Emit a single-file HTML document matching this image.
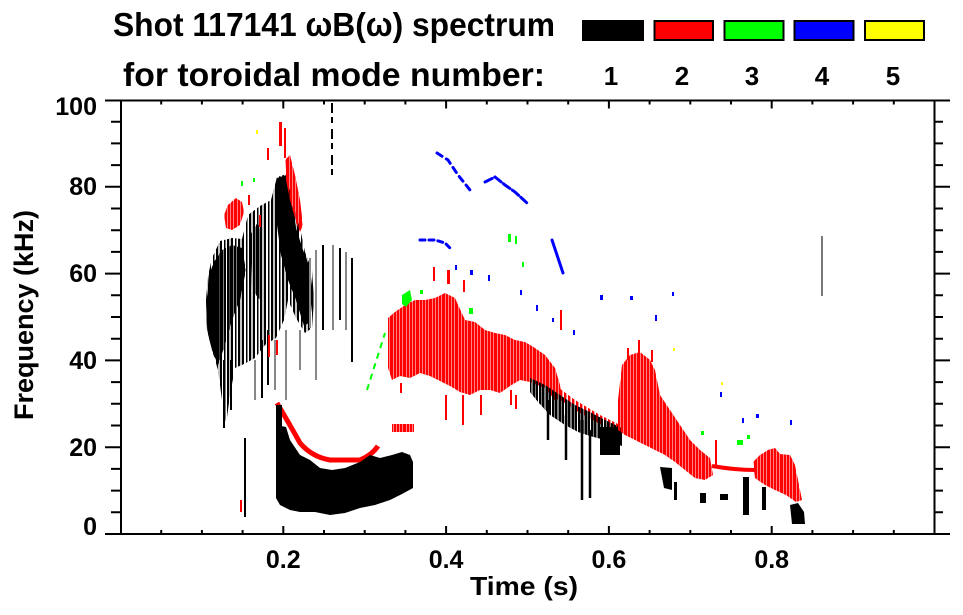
<!DOCTYPE html>
<html>
<head>
<meta charset="utf-8">
<style>
html,body{margin:0;padding:0;background:#fff;}
svg{display:block;}
text{font-family:"Liberation Sans",Arial,sans-serif;font-weight:bold;fill:#000;}
</style>
</head>
<body>
<svg width="963" height="615" viewBox="0 0 963 615" xmlns="http://www.w3.org/2000/svg">
<defs>
<pattern id="hk" width="13" height="37" patternUnits="userSpaceOnUse">
<rect x="0" width="2.5" height="37" fill="#000"/><rect x="3" width="2" height="37" fill="#000"/><rect x="6" width="2.5" height="37" fill="#000"/><rect x="9" width="2" height="37" fill="#000"/><rect x="11.5" width="1" height="37" fill="#000"/>
</pattern>
<pattern id="hk2" width="11" height="41" patternUnits="userSpaceOnUse">
<rect x="0" width="2" height="41" fill="#000"/><rect x="4" width="1.5" height="41" fill="#000"/><rect x="7" width="2" height="41" fill="#000"/><rect x="9.5" width="1" height="41" fill="#888"/>
</pattern>
<pattern id="hr" width="13" height="37" patternUnits="userSpaceOnUse">
<rect x="0" width="3" height="37" fill="#f00"/><rect x="3.5" width="2.5" height="37" fill="#f00"/><rect x="6.5" width="3" height="37" fill="#f00"/><rect x="10" width="2.5" height="37" fill="#f00"/>
</pattern>
<pattern id="hr2" width="4" height="10" patternUnits="userSpaceOnUse"><rect width="2.4" height="10" fill="#f00"/></pattern>
</defs>
<rect width="963" height="615" fill="#fff"/>

<!-- Title -->
<text x="113" y="36" font-size="33" textLength="442" lengthAdjust="spacingAndGlyphs">Shot 117141 ωB(ω) spectrum</text>
<text x="123" y="86" font-size="33" textLength="422" lengthAdjust="spacingAndGlyphs">for toroidal mode number:</text>

<!-- Legend -->
<rect x="582" y="20" width="62" height="21" fill="#000"/>
<rect x="654.5" y="21" width="58.5" height="19" fill="#f00" stroke="#000" stroke-width="2"/>
<rect x="724.5" y="21" width="59" height="19" fill="#0f0" stroke="#000" stroke-width="2"/>
<rect x="794.5" y="21" width="59" height="19" fill="#00f" stroke="#000" stroke-width="2"/>
<rect x="865" y="21" width="59" height="19" fill="#ff0" stroke="#000" stroke-width="2"/>
<g font-size="26" text-anchor="middle">
<text x="611" y="85">1</text>
<text x="682" y="85">2</text>
<text x="752" y="85">3</text>
<text x="822" y="85">4</text>
<text x="893" y="85">5</text>
</g>

<!-- ===== DATA ===== -->
<!-- Black left blob -->
<path d="M206,300 L208,276 L212,258 L220,241 L232,238 L242,239 L248,215 L260,206 L271,200 L277,177 L287,174 L292,198 L300,228 L305,252 L312,270 L314,300 L312,328 L305,333 L296,318 L288,300 L284,320 L276,338 L265,345 L255,358 L244,364 L235,368 L230,395 L226,425 L222,400 L218,370 L212,350 L207,330 Z" fill="url(#hk2)"/>
<path d="M206,305 L209,275 L214,262 L222,250 L232,245 L242,248 L246,270 L240,300 L232,320 L225,345 L218,365 L212,350 L207,330 Z" fill="url(#hk)"/>
<path d="M206,300 L210,290 L215,300 L214,335 L208,332 Z" fill="#000"/>
<path d="M277,178 L287,175 L291,200 L296,228 L303,250 L310,268 L313,295 L310,322 L304,326 L296,300 L288,280 L281,255 L277,225 Z" fill="#000"/>
<path d="M250,235 L258,222 L262,240 L260,300 L252,290 Z" fill="url(#hk)"/>
<g stroke="#000" stroke-width="2">
<line x1="224" y1="360" x2="224" y2="428"/>
<line x1="231" y1="360" x2="231" y2="410"/>
<line x1="262" y1="340" x2="262" y2="398"/>
<line x1="268" y1="330" x2="268" y2="385"/>
<line x1="245" y1="438" x2="245" y2="517"/>
<line x1="352" y1="258" x2="352" y2="362"/>
<line x1="323" y1="245" x2="323" y2="330"/>
<line x1="340" y1="248" x2="340" y2="320"/>
</g>
<g stroke="#888" stroke-width="2">
<line x1="310" y1="258" x2="310" y2="328"/>
<line x1="316" y1="250" x2="316" y2="380"/>
<line x1="333" y1="245" x2="333" y2="330"/>
<line x1="346" y1="252" x2="346" y2="330"/>
<line x1="255" y1="360" x2="255" y2="400"/>
<line x1="275" y1="340" x2="275" y2="390"/>
<line x1="286" y1="330" x2="286" y2="400"/>
<line x1="300" y1="330" x2="300" y2="370"/>
</g>
<line x1="332" y1="103" x2="332" y2="178" stroke="#000" stroke-width="2" stroke-dasharray="10,4,6,6"/>

<!-- Red near left blob -->
<path d="M224,215 L228,205 L236,198 L242,202 L244,212 L240,225 L232,230 L226,228 Z" fill="url(#hr)"/>
<path d="M285,160 L290,155 L295,175 L300,200 L303,225 L300,232 L296,222 L290,200 L286,180 Z" fill="url(#hr)"/>
<rect x="279" y="122" width="3" height="24" fill="#f00"/>
<rect x="284" y="128" width="2" height="30" fill="#f00"/>
<rect x="267" y="148" width="2" height="12" fill="#f00"/>
<rect x="248" y="195" width="2" height="10" fill="#f00"/>
<rect x="259" y="215" width="2" height="12" fill="#f00"/>
<rect x="268" y="335" width="2" height="22" fill="#f00"/>
<rect x="276" y="340" width="2" height="15" fill="#f00"/>

<!-- Red lower arc -->
<path d="M277,403 Q290,425 300,443 Q312,457 330,460 L360,460 Q372,455 378,446" fill="none" stroke="#f00" stroke-width="5"/>
<rect x="392" y="424" width="22" height="8" fill="url(#hr)"/>
<rect x="240" y="500" width="2" height="12" fill="#f00"/>

<!-- Black bottom blob -->
<path d="M276,425 L286,427 L290,440 L300,455 L310,460 L320,468 L332,470 L345,468 L360,462 L370,455 L380,458 L392,455 L402,452 L410,455 L413,462 L413,488 L402,494 L390,500 L375,505 L360,508 L345,513 L330,515 L315,512 L300,512 L290,510 L280,505 L276,498 Z" fill="#000"/>
<rect x="276" y="405" width="6" height="25" fill="#000"/>

<!-- Red middle band -->
<path d="M388,318 L395,312 L405,305 L415,300 L425,300 L435,298 L445,293 L455,298 L465,320 L475,322 L485,330 L495,333 L505,335 L515,340 L525,342 L535,348 L545,355 L555,368 L560,385 L562,398 L555,400 L545,388 L530,382 L520,380 L510,386 L500,393 L490,390 L480,390 L470,395 L460,392 L450,386 L440,381 L430,376 L420,373 L410,378 L400,376 L392,380 L388,368 Z" fill="url(#hr)"/>
<g fill="#f00">
<rect x="433" y="267" width="2" height="14"/>
<rect x="447" y="270" width="3" height="14"/>
<rect x="463" y="280" width="2" height="12"/>
<rect x="445" y="395" width="2" height="25"/>
<rect x="462" y="395" width="2" height="30"/>
<rect x="480" y="395" width="2" height="20"/>
<rect x="510" y="390" width="2" height="15"/>
<rect x="560" y="310" width="2" height="20"/>
<rect x="515" y="395" width="2" height="14"/>
<rect x="400" y="383" width="2" height="10"/>
</g>
<path d="M555,385 L575,400 L600,415 L620,425 L620,432 L600,424 L575,410 L555,396 Z" fill="url(#hr2)"/>

<!-- Black diagonal band -->
<path d="M530,378 L545,385 L560,395 L575,405 L590,412 L605,420 L622,428 L622,446 L605,440 L590,436 L578,432 L565,425 L550,415 L538,402 L530,392 Z" fill="url(#hk)"/>
<g stroke="#000" stroke-width="2.5">
<line x1="582" y1="420" x2="582" y2="500"/>
<line x1="590" y1="430" x2="590" y2="498"/>
<line x1="566" y1="415" x2="566" y2="460"/>
<line x1="548" y1="400" x2="548" y2="440"/>
</g>
<rect x="600" y="427" width="20" height="28" fill="#000"/>

<!-- Red right cluster E -->
<path d="M618,400 L622,365 L630,355 L640,352 L650,360 L655,370 L660,395 L670,410 L680,425 L690,440 L700,450 L710,458 L713,475 L705,480 L695,478 L685,470 L675,462 L665,455 L655,450 L645,445 L635,440 L625,435 L618,430 Z" fill="url(#hr)"/>
<g fill="#f00">
<rect x="638" y="340" width="2" height="15"/>
<rect x="651" y="350" width="2" height="12"/>
<rect x="627" y="348" width="2" height="12"/>
<rect x="715" y="440" width="2" height="25"/>
</g>
<path d="M712,466 Q735,470 755,470" fill="none" stroke="#f00" stroke-width="4"/>
<path d="M753,462 L760,455 L768,450 L775,448 L780,454 L790,455 L795,465 L798,480 L802,500 L796,502 L786,495 L775,490 L765,485 L755,478 Z" fill="url(#hr)"/>

<!-- Black right bits -->
<path d="M660,467 L672,468 L672,490 L664,488 Z" fill="#000"/>
<rect x="700" y="493" width="6" height="10" fill="#000"/>
<rect x="720" y="494" width="8" height="6" fill="#000"/>
<rect x="743" y="477" width="6" height="38" fill="#000"/>
<rect x="762" y="487" width="4" height="23" fill="#000"/>
<path d="M790,505 L798,503 L804,512 L805,524 L792,524 Z" fill="#000"/>
<rect x="674" y="482" width="3" height="18" fill="#000"/>

<!-- Gray line right -->
<rect x="821" y="236" width="2" height="60" fill="#777"/>

<!-- Blue -->
<g stroke="#00f" stroke-width="3" fill="none" stroke-linecap="round">
<path d="M437,153 L448,160 L458,175 L470,190" stroke-dasharray="6,5"/>
<path d="M485,182 L495,177 L505,185 L515,192 L527,203" stroke-dasharray="8,3"/>
<path d="M420,240 L435,240 L445,243 L452,250" stroke-dasharray="5,4"/>
<path d="M552,240 L563,273"/>
</g>
<g fill="#00f">
<rect x="455" y="265" width="2" height="5"/>
<rect x="470" y="270" width="3" height="5"/>
<rect x="488" y="275" width="2" height="6"/>
<rect x="520" y="290" width="2" height="5"/>
<rect x="536" y="305" width="2" height="6"/>
<rect x="552" y="318" width="2" height="4"/>
<rect x="573" y="330" width="2" height="5"/>
<rect x="600" y="295" width="3" height="5"/>
<rect x="630" y="296" width="3" height="4"/>
<rect x="655" y="315" width="2" height="6"/>
<rect x="672" y="292" width="2" height="4"/>
<rect x="720" y="392" width="2" height="5"/>
<rect x="742" y="418" width="2" height="5"/>
<rect x="756" y="414" width="3" height="4"/>
<rect x="790" y="420" width="2" height="5"/>
</g>

<!-- Green -->
<g fill="#0f0">
<path d="M402,295 L410,290 L412,300 L406,307 L402,304 Z"/>
<rect x="469" y="308" width="4" height="6"/>
<rect x="508" y="234" width="3" height="8"/>
<rect x="515" y="236" width="2" height="8"/>
<rect x="420" y="290" width="3" height="4"/>
<rect x="241" y="181" width="2" height="5"/>
<rect x="253" y="178" width="2" height="4"/>
<rect x="701" y="431" width="3" height="4"/>
<rect x="737" y="440" width="6" height="5"/>
<rect x="747" y="435" width="3" height="4"/>
<rect x="522" y="262" width="2" height="5"/>
</g>
<path d="M367,390 L385,333" stroke="#0f0" stroke-width="2" stroke-dasharray="6,5" fill="none"/>

<!-- Yellow -->
<g fill="#ff0">
<rect x="256" y="130" width="2" height="4"/>
<rect x="673" y="348" width="2" height="3"/>
<rect x="721" y="382" width="2" height="3"/>
</g>

<!-- ===== AXES ===== -->
<g stroke="#000" stroke-width="2" fill="none">
<rect x="121" y="100.5" width="813.5" height="433.5"/>
<path d="M105,534H121 M105,447.2H121 M105,360.4H121 M105,273.6H121 M105,186.8H121 M105,100.5H121"/>
<path d="M111,512.3H121 M111,490.6H121 M111,468.9H121 M111,425.5H121 M111,403.8H121 M111,382.1H121 M111,338.7H121 M111,317H121 M111,295.3H121 M111,251.9H121 M111,230.2H121 M111,208.5H121 M111,165.1H121 M111,143.4H121 M111,121.7H121"/>
<path d="M934.5,534H950 M934.5,447.2H950 M934.5,360.4H950 M934.5,273.6H950 M934.5,186.8H950 M934.5,100.5H950"/>
<path d="M934.5,512.3H943 M934.5,490.6H943 M934.5,468.9H943 M934.5,425.5H943 M934.5,403.8H943 M934.5,382.1H943 M934.5,338.7H943 M934.5,317H943 M934.5,295.3H943 M934.5,251.9H943 M934.5,230.2H943 M934.5,208.5H943 M934.5,165.1H943 M934.5,143.4H943 M934.5,121.7H943"/>
<path d="M283.3,534V526 M446.1,534V526 M608.9,534V526 M771.7,534V526"/>
<path d="M161.2,534V530 M201.9,534V530 M242.6,534V530 M324,534V530 M364.7,534V530 M405.4,534V530 M486.8,534V530 M527.5,534V530 M568.2,534V530 M649.6,534V530 M690.3,534V530 M731,534V530 M812.4,534V530 M853.1,534V530 M893.8,534V530"/>
<path d="M283.3,100.5V108.5 M446.1,100.5V108.5 M608.9,100.5V108.5 M771.7,100.5V108.5"/>
<path d="M161.2,100.5V104.5 M201.9,100.5V104.5 M242.6,100.5V104.5 M324,100.5V104.5 M364.7,100.5V104.5 M405.4,100.5V104.5 M486.8,100.5V104.5 M527.5,100.5V104.5 M568.2,100.5V104.5 M649.6,100.5V104.5 M690.3,100.5V104.5 M731,100.5V104.5 M812.4,100.5V104.5 M853.1,100.5V104.5 M893.8,100.5V104.5"/>
</g>

<!-- Y labels -->
<g font-size="25" text-anchor="end">
<text x="97" y="115">100</text>
<text x="97" y="195">80</text>
<text x="97" y="282">60</text>
<text x="97" y="369">40</text>
<text x="97" y="456">20</text>
<text x="97" y="535">0</text>
</g>
<!-- X labels -->
<g font-size="25" text-anchor="middle">
<text x="283.3" y="568">0.2</text>
<text x="446.1" y="568">0.4</text>
<text x="608.9" y="568">0.6</text>
<text x="771.7" y="568">0.8</text>
</g>
<text x="470" y="595" font-size="26" textLength="108" lengthAdjust="spacingAndGlyphs">Time (s)</text>
<text transform="translate(33,315) rotate(-90)" font-size="27" text-anchor="middle">Frequency (kHz)</text>
</svg>
</body>
</html>
